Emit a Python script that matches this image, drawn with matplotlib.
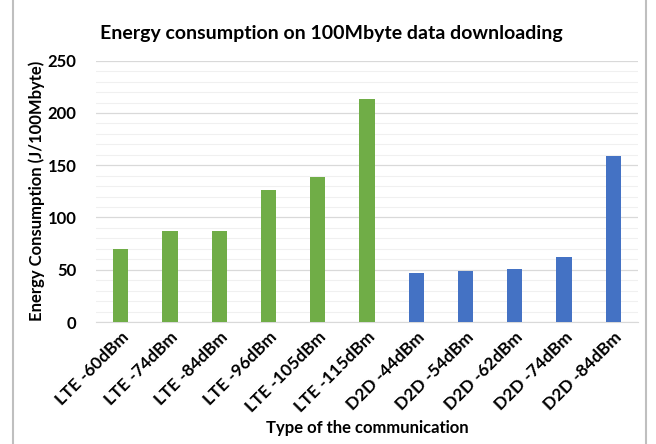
import matplotlib.pyplot as plt
import numpy as np
from matplotlib.lines import Line2D

plt.rcParams['font.family'] = ['Lato', 'DejaVu Sans']

# energy per 100 Mbyte download for each link type
categories = ['LTE -60dBm', 'LTE -74dBm', 'LTE -84dBm', 'LTE -96dBm', 'LTE -105dBm',
              'LTE -115dBm', 'D2D -44dBm', 'D2D -54dBm', 'D2D -62dBm', 'D2D -74dBm',
              'D2D -84dBm']
energy = [70, 87, 87.5, 126, 139, 213, 46.5, 49, 51, 62.5, 159]
link_type = ['LTE'] * 6 + ['D2D'] * 5

colors = {'LTE': '#70AD47', 'D2D': '#4472C4'}

fig = plt.figure(figsize=(6.56, 4.44), dpi=100)
ax = fig.add_axes([96 / 656, 1 - 322 / 444, (638 - 96) / 656, (322 - 60.7) / 444])

x = np.arange(len(categories))
ax.bar(x, energy, width=0.31, color=[colors[t] for t in link_type], zorder=3)

ax.set_xlim(-0.5, len(categories) - 0.5)
ax.set_ylim(0, 250)
ax.set_yticks(np.arange(0, 251, 50))
ax.set_yticks(np.arange(0, 251, 10), minor=True)
ax.grid(axis='y', which='major', color='#d9d9d9', linewidth=0.9, zorder=0)
ax.grid(axis='y', which='minor', color='#f0f0f0', linewidth=0.8, zorder=0)
for s in ['top', 'right', 'left']:
    ax.spines[s].set_visible(False)
ax.spines['bottom'].set_color('#d9d9d9')
ax.tick_params(axis='both', which='both', length=0)
ax.tick_params(axis='y', pad=14)
ax.tick_params(axis='x', pad=5)

ax.set_xticks(x)
ax.set_xticklabels(categories, rotation=45, ha='right', rotation_mode='anchor',
                   fontsize=12.5, fontweight='bold')
for lbl in ax.get_yticklabels():
    lbl.set_fontsize(12)
    lbl.set_fontweight('bold')

ax.set_xlabel('Type of the communication', fontsize=12, fontweight='bold', labelpad=3)
ax.set_ylabel('Energy Consumption (J/100Mbyte)', fontsize=12, fontweight='bold', labelpad=2)
fig.text(0.505, 1 - 33 / 444, 'Energy consumption on 100Mbyte data downloading',
         ha='center', va='center', fontsize=14, fontweight='bold')

# chart frame edges
fig.add_artist(Line2D([13 / 656, 13 / 656], [0, 1], color='#bfbfbf', linewidth=1.5))
fig.add_artist(Line2D([646 / 656, 646 / 656], [0, 1], color='#bfbfbf', linewidth=1.5))

fig.savefig('out.png', dpi=100)
